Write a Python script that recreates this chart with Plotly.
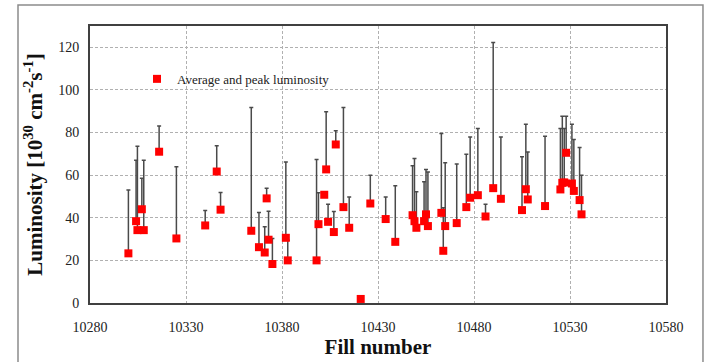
import plotly.graph_objects as go

fill = [10300, 10304, 10304.7, 10307, 10308, 10316, 10325, 10340, 10346, 10348,
        10364, 10368, 10371, 10372, 10373, 10375, 10382, 10383, 10398, 10399,
        10402, 10403, 10404, 10407, 10408, 10412, 10415, 10421, 10426, 10434,
        10439, 10448, 10449, 10450, 10454, 10455, 10456, 10463, 10464, 10465,
        10471, 10476, 10478, 10482, 10486, 10490, 10494, 10505, 10507, 10508,
        10517, 10525, 10526, 10527, 10528, 10531, 10532, 10535, 10536]
avg = [23.3, 38.4, 34.2, 44.0, 34.2, 71.0, 30.3, 36.4, 61.7, 43.8,
       33.9, 26.2, 23.7, 49.1, 29.7, 18.3, 30.6, 20.0, 20.0, 37.0,
       50.8, 62.7, 38.1, 33.3, 74.4, 45.0, 35.3, 1.9, 46.7, 39.4,
       28.7, 41.2, 38.4, 35.3, 38.4, 41.6, 36.1, 42.3, 24.5, 36.1,
       37.5, 45.0, 49.4, 50.6, 40.6, 53.9, 48.9, 43.6, 53.4, 48.6,
       45.5, 53.3, 56.4, 56.6, 70.5, 56.1, 52.6, 48.3, 41.6]
peak = [53.0, 67.0, 73.6, 58.5, 67.0, 83.1, 63.9, 43.4, 73.8, 51.9,
        91.7, 42.5, 35.8, 53.8, 43.1, 30.3, 66.2, 29.5, 67.3, 51.7,
        52.0, 89.7, 46.4, 43.0, 80.8, 91.7, 49.8, 1.9, 60.0, 49.8,
        55.0, 64.4, 67.8, 52.2, 56.9, 62.7, 61.5, 79.5, 44.7, 65.8,
        65.2, 69.8, 77.9, 81.9, 46.4, 122.2, 77.9, 68.6, 83.9, 70.9,
        78.3, 81.9, 87.7, 81.9, 87.7, 83.9, 76.7, 73.0, 60.0]

x_ticks = [10280, 10330, 10380, 10430, 10480, 10530, 10580]
y_ticks = [0, 20, 40, 60, 80, 100, 120]

err_plus = [p - a for p, a in zip(peak, avg)]

serif = "Liberation Serif"

fig = go.Figure()
fig.add_trace(go.Scatter(
    x=fill, y=avg, mode="markers",
    name="Average and peak luminosity",
    marker=dict(symbol="square", size=8, color="#ff0000", line=dict(width=0)),
    error_y=dict(type="data", symmetric=False, array=err_plus,
                 arrayminus=[0] * len(avg), color="#4a4a4a",
                 thickness=1.5, width=2),
))

# white legend background area (covers gridlines like the original)
fig.add_shape(type="rect", xref="paper", yref="paper",
              x0=0.066, x1=0.476, y0=0.726, y1=0.899,
              fillcolor="white", line=dict(width=0), layer="between")
# outer figure frame
fig.add_shape(type="rect", xref="paper", yref="paper",
              x0=-0.125, x1=1.0642, y0=-0.3, y1=1.0758,
              fillcolor="rgba(0,0,0,0)", line=dict(color="#8c8c8c", width=1.5),
              layer="above")

fig.update_layout(
    width=706, height=362,
    margin=dict(l=90, r=40, t=26, b=59, autoexpand=False),
    paper_bgcolor="white", plot_bgcolor="white",
    font=dict(family=serif, size=14, color="#222222"),
    showlegend=True,
    legend=dict(x=0.0816, y=0.809, xanchor="left", yanchor="middle",
                bgcolor="rgba(0,0,0,0)", font=dict(size=13, family=serif, color="#222222"),
                itemwidth=30, borderwidth=0),
    xaxis=dict(range=[10280, 10580], tickvals=x_ticks,
               ticktext=[str(v) for v in x_ticks],
               tickfont=dict(family=serif, size=14, color="#222222"),
               showgrid=True, gridcolor="#b0b0b0", griddash="3px,2px", gridwidth=1,
               showline=True, mirror=True, linecolor="#404040", linewidth=2,
               ticks="", ticklabelstandoff=10, zeroline=False, automargin=False,
               title=dict(text="<b>Fill number</b>", font=dict(size=21, family=serif, color="#111111"),
                          standoff=4)),
    yaxis=dict(range=[0, 130], tickvals=y_ticks,
               ticktext=[str(v) for v in y_ticks],
               tickfont=dict(family=serif, size=14, color="#222222"),
               showgrid=True, gridcolor="#b0b0b0", griddash="3px,2px", gridwidth=1,
               showline=True, mirror=True, linecolor="#404040", linewidth=2,
               ticks="", ticklabelstandoff=6, zeroline=False, automargin=False,
               title=dict(text="<b>Luminosity [10<sup>30</sup> cm<sup>-2</sup>s<sup>-1</sup>]</b>",
                          font=dict(size=21, family=serif, color="#111111"), standoff=10)),
)

fig.write_html("out.html")
